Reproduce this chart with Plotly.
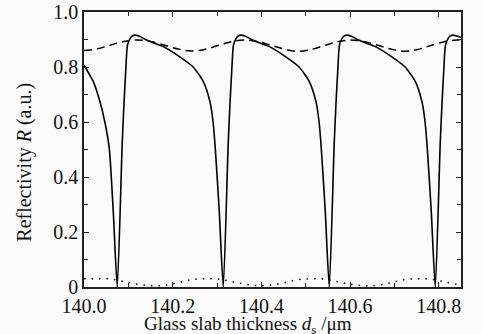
import plotly.graph_objects as go

# Solid curve: reflectivity
solid_x = [140.000, 140.021, 140.036, 140.047, 140.057, 140.066, 140.075,
           140.086, 140.090, 140.094, 140.098, 140.104, 140.108, 140.115, 140.125, 140.141, 140.179, 140.216, 140.246,
           140.269, 140.284, 140.291, 140.296, 140.305, 140.314,
           140.325, 140.329, 140.333, 140.337, 140.343, 140.347, 140.354, 140.364, 140.380, 140.418, 140.455, 140.485,
           140.508, 140.523, 140.530, 140.535, 140.544, 140.553,
           140.564, 140.568, 140.572, 140.576, 140.582, 140.586, 140.593, 140.603, 140.619, 140.657, 140.694, 140.724,
           140.747, 140.762, 140.769, 140.774, 140.783, 140.792,
           140.803, 140.807, 140.811, 140.815, 140.821, 140.825, 140.832, 140.842, 140.850]
solid_y = [0.807, 0.747, 0.674, 0.600, 0.504, 0.274, 0.000,
           0.516, 0.662, 0.783, 0.880, 0.904, 0.912, 0.916, 0.912, 0.898, 0.874, 0.837, 0.800,
           0.747, 0.674, 0.600, 0.504, 0.274, 0.000,
           0.516, 0.662, 0.783, 0.880, 0.904, 0.912, 0.916, 0.912, 0.898, 0.874, 0.837, 0.800,
           0.747, 0.674, 0.600, 0.504, 0.274, 0.000,
           0.516, 0.662, 0.783, 0.880, 0.904, 0.912, 0.916, 0.912, 0.898, 0.874, 0.837, 0.800,
           0.747, 0.674, 0.600, 0.504, 0.274, 0.000,
           0.516, 0.662, 0.783, 0.880, 0.904, 0.912, 0.916, 0.912, 0.908]

# Dashed curve
dash_x = [140.00, 140.03, 140.06, 140.09, 140.12, 140.15, 140.18, 140.21, 140.24, 140.27,
          140.30, 140.33, 140.36, 140.39, 140.42, 140.45, 140.48, 140.51, 140.54, 140.57,
          140.60, 140.63, 140.66, 140.69, 140.72, 140.75, 140.78, 140.81, 140.84, 140.85]
dash_y = [0.860, 0.866, 0.880, 0.893, 0.898, 0.893, 0.880, 0.866, 0.858, 0.863,
          0.877, 0.891, 0.898, 0.893, 0.880, 0.866, 0.857, 0.863, 0.877, 0.891,
          0.898, 0.893, 0.880, 0.866, 0.857, 0.863, 0.877, 0.891, 0.898, 0.898]

# Dotted curve
dot_x = dash_x
dot_y = [0.030, 0.030, 0.029, 0.020, 0.010, 0.005, 0.006, 0.015, 0.026, 0.030,
         0.029, 0.021, 0.011, 0.005, 0.006, 0.015, 0.026, 0.030, 0.029, 0.020,
         0.010, 0.005, 0.006, 0.015, 0.026, 0.030, 0.029, 0.020, 0.010, 0.008]

x_ticks = [140.0, 140.2, 140.4, 140.6, 140.8]
x_ticktext = ["140.0", "140.2", "140.4", "140.6", "140.8"]
y_ticks = [0, 0.2, 0.4, 0.6, 0.8, 1.0]
y_ticktext = ["0", "0.2", "0.4", "0.6", "0.8", "1.0"]

FONT = "Liberation Serif"

fig = go.Figure()
fig.add_trace(go.Scatter(x=dot_x, y=dot_y, mode="lines",
                         line=dict(color="black", width=1.5, dash="1.5px,6px", shape="spline")))
fig.add_trace(go.Scatter(x=dash_x, y=dash_y, mode="lines",
                         line=dict(color="black", width=1.5, dash="8px,5px", shape="spline")))
fig.add_trace(go.Scatter(x=solid_x, y=solid_y, mode="lines",
                         line=dict(color="black", width=1.6, shape="spline", smoothing=0.6)))

axis_common = dict(showgrid=False, zeroline=False, showline=True, linecolor="#222", linewidth=1.5,
                   mirror="ticks", ticks="inside", ticklen=5, tickwidth=1.2, tickcolor="#222",
                   automargin=False, ticklabeloverflow="allow",
                   tickfont=dict(family=FONT, size=20, color="#111"))

fig.update_layout(
    width=482, height=334,
    margin=dict(l=84, r=21, t=12, b=47),
    paper_bgcolor="#fbfbfb", plot_bgcolor="#fbfbfb",
    showlegend=False,
    xaxis=dict(range=[140.0, 140.85], tickvals=x_ticks, ticktext=x_ticktext,
               minor=dict(dtick=0.1, tick0=140.0, ticks="inside", ticklen=4, tickwidth=1.2, tickcolor="#222"),
               **axis_common),
    yaxis=dict(range=[0, 1.0], tickvals=y_ticks, ticktext=y_ticktext,
               minor=dict(dtick=0.1, tick0=0, ticks="inside", ticklen=4, tickwidth=1.2, tickcolor="#222"),
               **axis_common),
    annotations=[
        dict(text="Glass slab thickness <i>d</i><sub>s</sub> /μm", xref="paper", yref="paper",
             x=0.435, y=-0.137, xanchor="center", yanchor="middle", showarrow=False,
             font=dict(family=FONT, size=19, color="#111")),
        dict(text="Reflectivity <i>R</i> (a.u.)", xref="paper", yref="paper",
             x=-0.157, y=0.455, xanchor="center", yanchor="middle", textangle=-90, showarrow=False,
             font=dict(family=FONT, size=20, color="#111")),
    ],
)

fig.write_html("out.html", config={"displayModeBar": False},
               post_script="document.body.style.margin='0';document.body.style.background='#fbfbfb';")
